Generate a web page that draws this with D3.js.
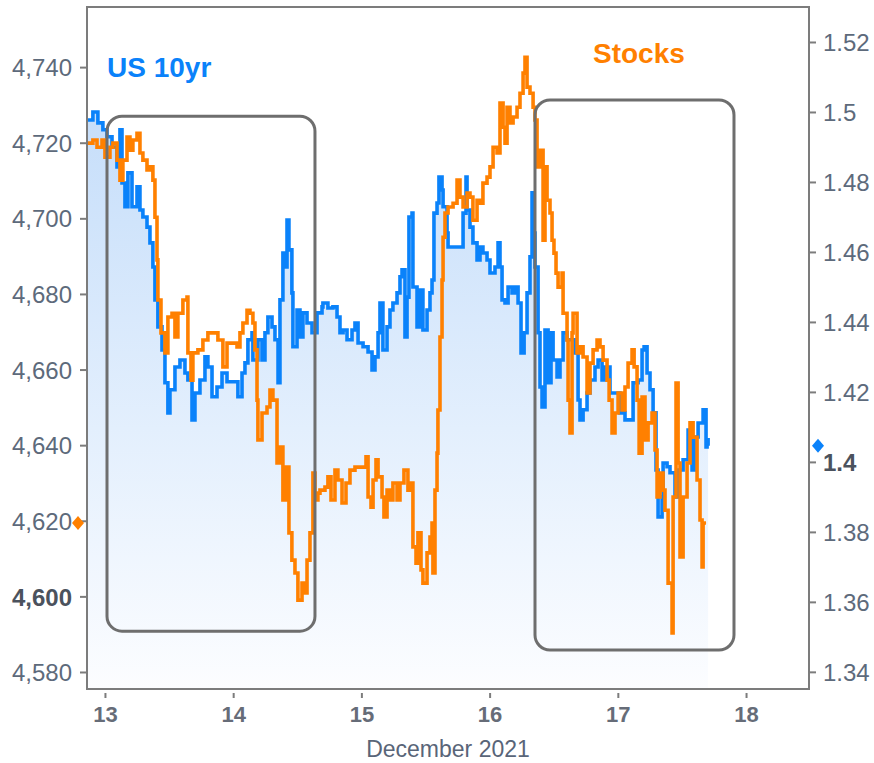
<!DOCTYPE html>
<html>
<head>
<meta charset="utf-8">
<script src="https://cdn.jsdelivr.net/npm/d3@7/dist/d3.min.js"></script>
<style>
  html, body { margin: 0; padding: 0; background: #ffffff; }
  svg { display: block; font-family: "Liberation Sans", Arial, sans-serif; }
</style>
</head>
<body>
<svg id="chart" width="874" height="763"></svg>
<script>
// ---- Data (x = day of December 2021, fractional) ----
const yieldTime = [12.860,12.906,12.945,12.984,13.016,13.055,13.094,13.117,13.133,13.156,13.179,13.211,13.250,13.273,13.296,13.328,13.351,13.374,13.390,13.413,13.445,13.468,13.491,13.507,13.546,13.585,13.624,13.647,13.679,13.702,13.741,13.780,13.803,13.835,13.874,13.913,13.952,13.998,14.037,14.069,14.092,14.115,14.147,14.154,14.193,14.225,14.248,14.271,14.303,14.326,14.350,14.365,14.388,14.404,14.420,14.435,14.458,14.466,14.498,14.521,14.544,14.576,14.615,14.654,14.693,14.700,14.739,14.778,14.810,14.833,14.857,14.888,14.927,14.950,14.974,15.013,15.052,15.083,15.106,15.130,15.145,15.168,15.200,15.223,15.246,15.278,15.301,15.317,15.340,15.356,15.371,15.395,15.402,15.434,15.457,15.480,15.512,15.535,15.551,15.566,15.590,15.605,15.629,15.637,15.668,15.676,15.715,15.785,15.793,15.816,15.824,15.847,15.870,15.902,15.925,15.948,15.980,16.003,16.042,16.066,16.081,16.097,16.120,16.144,16.175,16.198,16.222,16.245,16.269,16.292,16.315,16.331,16.339,16.354,16.378,16.393,16.409,16.432,16.456,16.479,16.495,16.526,16.549,16.573,16.604,16.627,16.666,16.690,16.705,16.729,16.760,16.783,16.822,16.846,16.877,16.900,16.939,16.978,17.017,17.056,17.080,17.119,17.158,17.189,17.205,17.228,17.251,17.275,17.298,17.314,17.345,17.353,17.384,17.407,17.446,17.470,17.509,17.548,17.579,17.602,17.626,17.665,17.688,17.696,17.704];
const yieldValue = [1.4977,1.5000,1.4969,1.4949,1.4929,1.4900,1.4843,1.4949,1.4797,1.4729,1.4826,1.4729,1.4786,1.4720,1.4700,1.4671,1.4626,1.4557,1.4463,1.4386,1.4320,1.4226,1.4140,1.4206,1.4271,1.4291,1.4254,1.4234,1.4120,1.4197,1.4234,1.4300,1.4271,1.4186,1.4214,1.4254,1.4229,1.4229,1.4186,1.4254,1.4283,1.4349,1.4369,1.4291,1.4349,1.4291,1.4369,1.4414,1.4386,1.4349,1.4226,1.4463,1.4597,1.4557,1.4691,1.4606,1.4483,1.4329,1.4434,1.4357,1.4426,1.4397,1.4369,1.4426,1.4443,1.4454,1.4440,1.4443,1.4414,1.4369,1.4377,1.4349,1.4377,1.4397,1.4340,1.4329,1.4314,1.4263,1.4300,1.4369,1.4454,1.4320,1.4386,1.4434,1.4454,1.4483,1.4529,1.4549,1.4357,1.4471,1.4700,1.4711,1.4500,1.4386,1.4491,1.4377,1.4434,1.4483,1.4520,1.4711,1.4740,1.4814,1.4777,1.4729,1.4654,1.4614,1.4614,1.4614,1.4711,1.4814,1.4720,1.4671,1.4626,1.4577,1.4614,1.4597,1.4577,1.4540,1.4557,1.4626,1.4557,1.4463,1.4454,1.4500,1.4483,1.4500,1.4454,1.4311,1.4369,1.4483,1.4586,1.4769,1.4654,1.4557,1.4369,1.4214,1.4157,1.4377,1.4226,1.4369,1.4291,1.4243,1.4291,1.4369,1.4349,1.4349,1.4311,1.4177,1.4120,1.4149,1.4197,1.4234,1.4271,1.4291,1.4234,1.4271,1.4197,1.4197,1.4140,1.4120,1.4120,1.4226,1.4234,1.4320,1.4329,1.4254,1.4206,1.4140,1.3977,1.3843,1.3900,1.3997,1.3986,1.3969,1.3900,1.3977,1.4006,1.4091,1.3977,1.4071,1.4111,1.4149,1.4043,1.4063,1.4046];

const stockTime = [12.860,12.906,12.938,12.977,13.000,13.039,13.062,13.094,13.117,13.140,13.172,13.195,13.218,13.250,13.273,13.296,13.328,13.351,13.374,13.390,13.406,13.413,13.437,13.468,13.491,13.523,13.546,13.569,13.608,13.640,13.647,13.671,13.686,13.725,13.764,13.803,13.835,13.881,13.920,13.952,13.991,14.030,14.053,14.076,14.108,14.131,14.154,14.170,14.186,14.193,14.225,14.264,14.287,14.310,14.342,14.365,14.388,14.412,14.435,14.458,14.482,14.505,14.537,14.560,14.576,14.599,14.622,14.638,14.661,14.677,14.716,14.739,14.763,14.794,14.817,14.849,14.880,14.911,14.950,15.005,15.036,15.052,15.075,15.091,15.114,15.130,15.161,15.176,15.200,15.223,15.246,15.278,15.301,15.332,15.363,15.387,15.402,15.426,15.441,15.465,15.480,15.512,15.535,15.551,15.558,15.574,15.590,15.597,15.613,15.629,15.637,15.652,15.676,15.715,15.746,15.769,15.793,15.824,15.847,15.870,15.902,15.925,15.948,15.980,16.003,16.027,16.058,16.081,16.105,16.120,16.136,16.159,16.183,16.214,16.237,16.261,16.276,16.292,16.315,16.339,16.354,16.370,16.393,16.417,16.432,16.448,16.471,16.487,16.502,16.518,16.534,16.565,16.573,16.604,16.612,16.627,16.643,16.651,16.682,16.705,16.729,16.760,16.783,16.807,16.838,16.861,16.885,16.916,16.932,16.955,16.978,17.002,17.033,17.056,17.080,17.111,17.127,17.150,17.166,17.189,17.212,17.236,17.267,17.290,17.306,17.329,17.353,17.368,17.392,17.423,17.431,17.454,17.470,17.485,17.509,17.540,17.563,17.587,17.618,17.641,17.657,17.665,17.688];
const stockValue = [4719.9,4720.7,4718.8,4720.7,4716.2,4718.8,4719.9,4715.4,4710.1,4715.4,4721.5,4718.0,4720.7,4722.5,4717.3,4715.4,4712.8,4713.6,4710.1,4700.3,4689.0,4678.4,4669.7,4664.4,4673.9,4674.9,4668.6,4674.9,4678.4,4679.2,4664.4,4657.2,4664.4,4665.2,4667.8,4669.7,4669.7,4667.8,4660.7,4667.0,4667.0,4666.0,4669.7,4672.3,4675.7,4674.9,4672.3,4665.2,4651.9,4641.4,4648.5,4650.1,4654.6,4651.9,4635.3,4639.5,4625.5,4634.2,4616.8,4609.6,4606.2,4599.0,4603.5,4600.9,4609.6,4616.8,4632.6,4625.5,4627.3,4628.1,4628.9,4631.6,4625.5,4633.4,4630.8,4624.7,4630.0,4633.4,4634.2,4634.2,4636.9,4626.3,4623.6,4630.8,4636.1,4631.6,4626.3,4621.0,4628.1,4625.5,4630.0,4625.5,4630.0,4633.4,4628.1,4630.0,4613.1,4608.8,4616.8,4607.0,4603.5,4611.5,4615.7,4619.4,4606.2,4628.1,4637.9,4649.3,4668.6,4683.7,4695.0,4701.4,4703.0,4704.0,4710.1,4705.6,4703.0,4706.7,4705.6,4699.5,4704.8,4704.0,4709.3,4710.9,4713.6,4718.8,4717.3,4730.5,4724.1,4719.9,4729.4,4725.2,4726.8,4729.4,4733.1,4738.4,4742.6,4734.7,4733.1,4729.4,4726.0,4713.6,4718.0,4694.2,4713.6,4704.8,4701.4,4694.2,4690.8,4685.5,4681.8,4685.5,4674.9,4667.8,4651.9,4643.2,4669.7,4674.9,4664.4,4666.0,4663.3,4653.8,4661.7,4665.2,4667.8,4666.0,4662.5,4657.2,4651.9,4643.2,4648.5,4653.8,4649.3,4655.4,4661.7,4665.2,4660.7,4651.9,4637.9,4652.7,4641.4,4645.9,4648.5,4638.7,4626.3,4632.6,4628.1,4622.8,4603.5,4590.3,4626.3,4656.4,4635.3,4610.4,4626.3,4635.3,4645.9,4642.1,4630.8,4620.2,4607.8,4619.4,4619.4];

const leftTicks  = [4580, 4600, 4620, 4640, 4660, 4680, 4700, 4720, 4740];
const rightTicks = [1.34, 1.36, 1.38, 1.4, 1.42, 1.44, 1.46, 1.48, 1.5, 1.52];
const dayTicks   = [13, 14, 15, 16, 17, 18];
const boldLeftTick  = 4600;
const boldRightTick = 1.4;
const seriesNames = ["US 10yr", "Stocks"];
const axisTitle = "December 2021";
// highlighted periods [startDay, endDay, lowStock, highStock]
const boxes = [[13.016, 14.638, 4590.8, 4727.0], [16.354, 17.906, 4585.8, 4731.3]];

// ---- Layout ----
const L = 87, R = 809, T = 7, B = 689;
const BLUE = "#0a82fa", ORANGE = "#ff8000", TXT = "#5d6a7b", TXTB = "#4b525d", AX = "#7c7c7c";

const svg = d3.select("#chart");
const x = d3.scaleLinear().domain([12.86, 18.491]).range([L, R]);
const yL = d3.scaleLinear().domain([4575.5, 4755.9]).range([B, T]);
const yR = d3.scaleLinear().domain([1.3351, 1.5300]).range([B, T]);

const yieldData = yieldTime.map((t, i) => ({t, v: yieldValue[i]}));
const stockData = stockTime.map((t, i) => ({t, v: stockValue[i]}));

const defs = svg.append("defs");
const grad = defs.append("linearGradient").attr("id", "fillGrad")
  .attr("gradientUnits", "userSpaceOnUse")
  .attr("x1", 0).attr("x2", 0)
  .attr("y1", yR(d3.max(yieldValue))).attr("y2", B);
grad.append("stop").attr("offset", "0%").attr("stop-color", "#c6defa");
grad.append("stop").attr("offset", "55%").attr("stop-color", "#e3effd");
grad.append("stop").attr("offset", "100%").attr("stop-color", "#fcfdff");
defs.append("clipPath").attr("id", "plotClip").append("rect")
  .attr("x", L).attr("y", T).attr("width", R - L).attr("height", B - T);

const curve = d3.curveStepAfter;
// area under US 10yr
const g = svg.append("g").attr("clip-path", "url(#plotClip)");
g.append("path").datum(yieldData)
  .attr("fill", "url(#fillGrad)")
  .attr("d", d3.area().curve(curve).x(d => x(d.t)).y0(B).y1(d => yR(d.v)));
g.append("path").datum(yieldData)
  .attr("fill", "none").attr("stroke", BLUE).attr("stroke-width", 3.6)
  .attr("d", d3.line().curve(curve).x(d => x(d.t)).y(d => yR(d.v)));
g.append("path").datum(stockData)
  .attr("fill", "none").attr("stroke", ORANGE).attr("stroke-width", 3.6)
  .attr("d", d3.line().curve(curve).x(d => x(d.t)).y(d => yL(d.v)));

// frame
svg.append("rect").attr("x", L).attr("y", T).attr("width", R - L).attr("height", B - T)
  .attr("fill", "none").attr("stroke", AX).attr("stroke-width", 2);

// left axis
const gl = svg.append("g").attr("transform", `translate(${L},0)`)
  .call(d3.axisLeft(yL).tickValues(leftTicks).tickSize(7).tickPadding(8).tickFormat(d3.format(",")));
// right axis
const gr = svg.append("g").attr("transform", `translate(${R},0)`)
  .call(d3.axisRight(yR).tickValues(rightTicks).tickSize(7).tickPadding(7).tickFormat(d => String(d)));
// bottom axis
const gb = svg.append("g").attr("transform", `translate(0,${B + 4})`)
  .call(d3.axisBottom(x).tickValues(dayTicks).tickSize(5).tickPadding(8).tickFormat(d3.format("d")));

[gl, gr, gb].forEach(ax => {
  ax.select(".domain").remove();
  ax.selectAll(".tick line").attr("stroke", AX).attr("stroke-width", 2);
  ax.selectAll(".tick text").attr("fill", TXT).style("font-family", '"Liberation Sans", Arial, sans-serif');
});
gl.selectAll(".tick text").style("font-size", "24px").attr("dy", "0.36em");
gr.selectAll(".tick text").style("font-size", "24px").attr("dy", "0.36em");
gb.selectAll(".tick text").style("font-size", "22px").style("font-weight", "bold").attr("fill", "#666c78");
gl.selectAll(".tick").filter(d => d === boldLeftTick).select("text")
  .style("font-weight", "bold").attr("fill", TXTB);
gr.selectAll(".tick").filter(d => d === boldRightTick).select("text")
  .style("font-weight", "bold").attr("fill", TXTB);

// axis title
svg.append("text").attr("x", (L + R) / 2).attr("y", 757).attr("text-anchor", "middle")
  .attr("fill", "#596578").style("font-size", "23px").text(axisTitle);

// last-value markers (diamonds)
const diamond = "M0,-7L6,0L0,7L-6,0Z";
svg.append("path").attr("d", diamond)
  .attr("transform", `translate(${L - 9},${yL(stockValue[stockValue.length - 1])})`)
  .attr("fill", ORANGE);
svg.append("path").attr("d", diamond)
  .attr("transform", `translate(${R + 9},${yR(yieldValue[yieldValue.length - 1])})`)
  .attr("fill", BLUE);

// series labels
svg.append("text").attr("x", 107).attr("y", 77).attr("fill", BLUE)
  .style("font-size", "28px").style("font-weight", "bold").text(seriesNames[0]);
svg.append("text").attr("x", 593).attr("y", 63).attr("fill", ORANGE)
  .style("font-size", "28px").style("font-weight", "bold").text(seriesNames[1]);

// highlight boxes
svg.selectAll("rect.box").data(boxes).enter().append("rect").attr("class", "box")
  .attr("x", d => x(d[0])).attr("y", d => yL(d[3]))
  .attr("width", d => x(d[1]) - x(d[0])).attr("height", d => yL(d[2]) - yL(d[3]))
  .attr("rx", 15).attr("ry", 15)
  .attr("fill", "none").attr("stroke", "#6e6e6e").attr("stroke-width", 3);
</script>
</body>
</html>
